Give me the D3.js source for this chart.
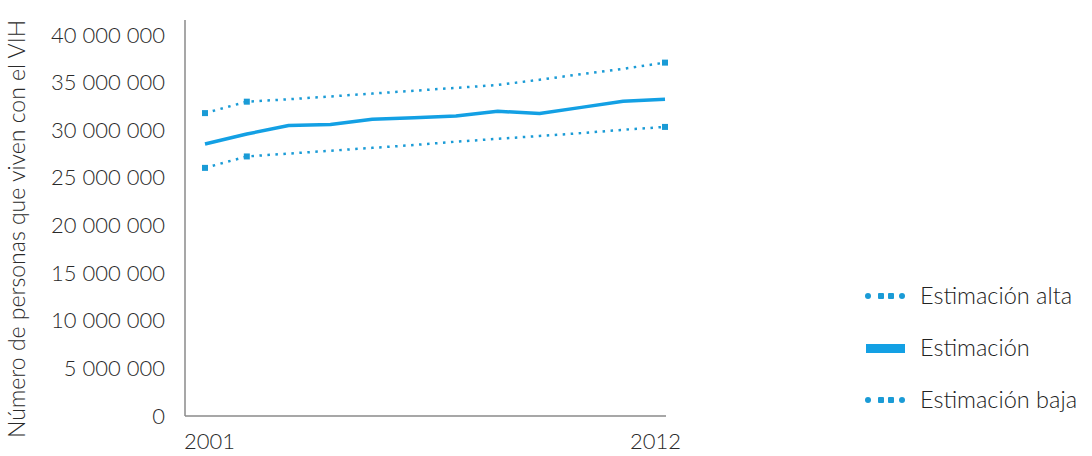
<!DOCTYPE html>
<html lang="es">
<head>
<meta charset="utf-8">
<style>
body { margin: 0; background: #fff; font-family: 'Lato', 'Open Sans', sans-serif; font-weight: 300; }
.axis text { fill: #2a2a2a; font-size: 22px; font-family: 'Lato', sans-serif; font-weight: 300; }
.axis path { stroke: #8a8a8a; stroke-width: 1.5; }
.legend text { fill: #222; font-size: 23.5px; font-weight: 300; }
</style>
<script src="https://cdn.jsdelivr.net/npm/d3@7"></script>
</head>
<body>
<div id="chart"></div>
<script>
// data (millions)
var years = [2001, 2002, 2003, 2004, 2005, 2006, 2007, 2008, 2009, 2010, 2011, 2012];
var estimacion = [28.55, 29.6, 30.5, 30.6, 31.15, 31.3, 31.5, 32.0, 31.75, 32.4, 33.05, 33.25];
var estimacionAlta = [31.8, 33.0, 33.25, 33.55, 33.85, 34.15, 34.45, 34.75, 35.3, 35.9, 36.45, 37.1];
var estimacionBaja = [26.05, 27.25, 27.55, 27.85, 28.15, 28.45, 28.8, 29.1, 29.4, 29.7, 30.05, 30.35];
var yTicks = [0, 5, 10, 15, 20, 25, 30, 35, 40];
var xTicks = [2001, 2012];
var legendNames = ["Estimación alta", "Estimación", "Estimación baja"];

var w = 1092, h = 456;
var blue = "#13a0e4", dotBlue = "#1a9bd6";

var svg = d3.select("#chart").append("svg")
  .attr("width", w)
  .attr("height", h);

var x = d3.scaleLinear().domain([2001, 2012]).range([205, 665]);
var y = d3.scaleLinear().domain([0, 40]).range([416, 35]);

// y axis
var yAxis = svg.append("g")
  .attr("class", "axis")
  .attr("transform", "translate(185,0)")
  .call(d3.axisLeft(y).tickValues(yTicks).tickSize(0).tickPadding(20)
    .tickFormat(function(d){ return d3.format(",")(d * 1e6).replace(/,/g, " "); }));
yAxis.select(".domain").attr("d", "M0,20V416");

// x axis
var xAxis = svg.append("g")
  .attr("class", "axis")
  .attr("transform", "translate(0,416)")
  .call(d3.axisBottom(x).tickValues(xTicks).tickSize(0).tickPadding(17)
    .tickFormat(d3.format("d")));
xAxis.select(".domain").attr("d", "M185,0H666");
xAxis.selectAll(".tick text").attr("dx", function(d){ return d === 2012 ? -10 : 4; });

// axis title
svg.append("text")
  .attr("transform", "translate(25,229) rotate(-90)")
  .attr("text-anchor", "middle")
  .style("font-size", "23px")
  .style("fill", "#2a2a2a")
  .text("Número de personas que viven con el VIH");

var line = d3.line()
  .x(function(d, i){ return x(years[i]); })
  .y(function(d){ return y(d); });

// dotted estimates
[estimacionAlta, estimacionBaja].forEach(function(s){
  svg.append("path")
    .datum(s)
    .attr("d", line)
    .attr("fill", "none")
    .attr("stroke", dotBlue)
    .attr("stroke-width", 2.5)
    .attr("stroke-dasharray", "2.5,5.5");
  svg.selectAll(null)
    .data([0, 1, s.length - 1])
    .enter().append("rect")
    .attr("x", function(i){ return x(years[i]) - 3; })
    .attr("y", function(i){ return y(s[i]) - 3; })
    .attr("width", 6)
    .attr("height", 6)
    .attr("fill", dotBlue);
});

svg.append("path")
  .datum(estimacion)
  .attr("d", line)
  .attr("fill", "none")
  .attr("stroke", blue)
  .attr("stroke-width", 3.5)
  .attr("stroke-linejoin", "round");

// legend
var legend = svg.append("g").attr("class", "legend");
legendNames.forEach(function(name, i){
  var ly = 296 + i * 52;
  if (i === 1) {
    legend.append("rect")
      .attr("x", 866).attr("y", ly - 4)
      .attr("width", 39).attr("height", 9)
      .attr("fill", blue);
  } else {
    legend.selectAll(null)
      .data([868, 881, 891, 902])
      .enter().append("rect")
      .attr("x", function(d){ return d - 3; })
      .attr("y", ly - 3)
      .attr("width", 6).attr("height", 6)
      .attr("rx", function(d, j){ return (j === 0 || j === 3) ? 3 : 1; })
      .attr("fill", dotBlue);
  }
  legend.append("text")
    .attr("x", 920)
    .attr("y", ly + 8)
    .text(name);
});
</script>
</body>
</html>
